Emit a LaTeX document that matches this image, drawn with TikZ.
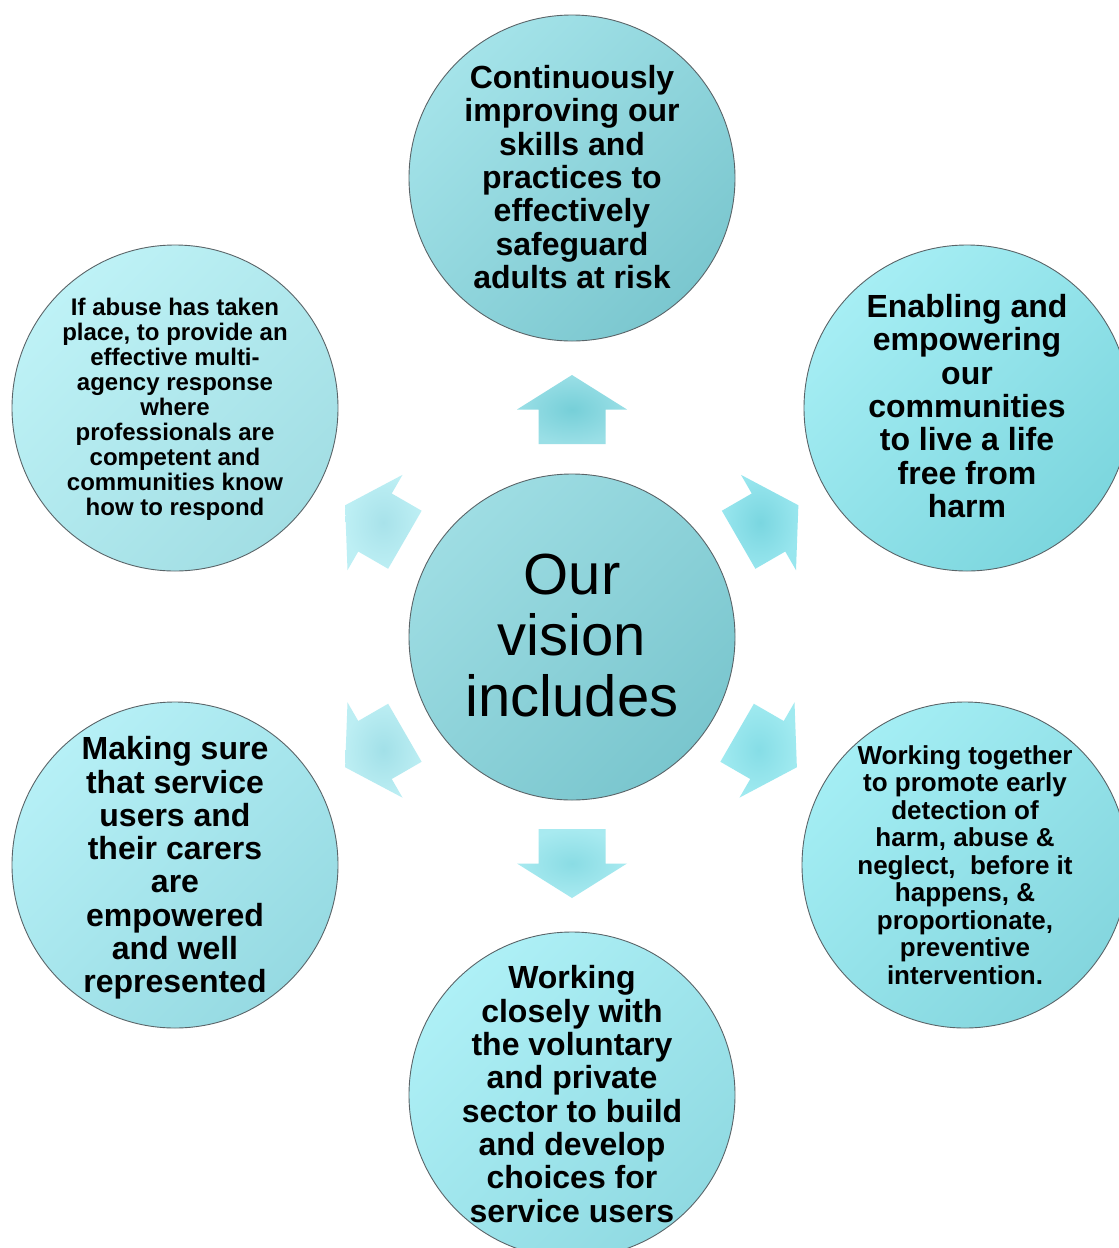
\documentclass[tikz,border=0pt]{standalone}
\usepackage{fontspec}
\setmainfont{Liberation Sans}
\definecolor{cA1}{HTML}{9EDDE3}\definecolor{cA2}{HTML}{7AC6CE}
\definecolor{tA1}{HTML}{A4E3E9}\definecolor{tA2}{HTML}{7BC7CF}
\definecolor{urA1}{HTML}{A6EEF4}\definecolor{urA2}{HTML}{7CD6DE}
\definecolor{ulA1}{HTML}{BEF2F6}\definecolor{ulA2}{HTML}{A2DEE4}
\definecolor{llA1}{HTML}{B6F0F6}\definecolor{llA2}{HTML}{96DAE2}
\definecolor{lrA1}{HTML}{A4EEF4}\definecolor{lrA2}{HTML}{84D6DE}
\definecolor{bA1}{HTML}{AEF0F6}\definecolor{bA2}{HTML}{90DAE2}
\definecolor{aUpI}{HTML}{76CFD8}\definecolor{aUpO}{HTML}{9ADFE6}
\definecolor{aDnI}{HTML}{8ADCE4}\definecolor{aDnO}{HTML}{A8EAF0}
\definecolor{aULI}{HTML}{A8E2EA}\definecolor{aULO}{HTML}{BDEFF4}
\definecolor{aURI}{HTML}{7AD6E0}\definecolor{aURO}{HTML}{98E6EE}
\definecolor{aLLI}{HTML}{A2E0E8}\definecolor{aLLO}{HTML}{BCEEF3}
\definecolor{aLRI}{HTML}{86DDE6}\definecolor{aLRO}{HTML}{A0EAF0}
\definecolor{rimc}{HTML}{5A6468}
\newcommand{\bigtxt}{\fontsize{32}{33.3}\selectfont\bfseries}
\newcommand{\blockarrow}[5]{%
  \begin{scope}[shift={(#1,#2)},rotate=#3]
    \shade[inner color=#4,outer color=#5]
      (34.5,0) -- (0,55) -- (0,33.5) -- (-34.5,33.5) -- (-34.5,-33.5)
      -- (0,-33.5) -- (0,-55) -- cycle;
  \end{scope}}
\begin{document}
\begin{tikzpicture}[x=1pt,y=-1pt,
  disc/.style={circle,minimum size=326pt,inner sep=0pt,draw=rimc,line width=0.9pt},
  txt/.style={align=center,inner sep=0pt,text=black}]
\useasboundingbox (0,0) rectangle (1119,1248);
\clip (0,0) rectangle (1119,1248);
\fill[white] (0,0) rectangle (1119,1248);

% circles
\node[disc,top color=tA1,bottom color=tA2,shading angle=45] (top) at (572,178) {};
\node[disc,top color=urA1,bottom color=urA2,shading angle=45] (ur) at (967,408) {};
\node[disc,top color=ulA1,bottom color=ulA2,shading angle=45] (ul) at (175,408) {};
\node[disc,top color=cA1,bottom color=cA2,shading angle=45] (ctr) at (572,637) {};
\node[disc,top color=llA1,bottom color=llA2,shading angle=45] (ll) at (175,865) {};
\node[disc,top color=lrA1,bottom color=lrA2,shading angle=45] (lr) at (965,865) {};
\node[disc,top color=bA1,bottom color=bA2,shading angle=45] (bot) at (572,1095) {};

% block arrows
\blockarrow{572}{409.5}{90}{aUpI}{aUpO}
\blockarrow{572}{863.5}{-90}{aDnI}{aDnO}
\blockarrow{375}{522.5}{150}{aULI}{aULO}
\blockarrow{768.5}{522.5}{30}{aURI}{aURO}
\blockarrow{375}{750}{210}{aLLI}{aLLO}
\blockarrow{767}{750}{-30}{aLRI}{aLRO}

% texts
\node[txt,font=\bigtxt] (ttop) at (572,177)
  {Continuously\\improving our\\skills and\\practices to\\effectively\\safeguard\\adults at risk};
\node[txt,font=\bigtxt] (tur) at (967,406)
  {Enabling and\\empowering\\our\\communities\\to live a life\\free from\\harm};
\node[txt,font=\fontsize{24}{25}\selectfont\bfseries] (tul) at (175,409)
  {If abuse has taken\\place, to provide an\\effective multi-\\agency response\\where\\professionals are\\competent and\\communities know\\how to respond};
\node[txt,font=\fontsize{58}{61}\selectfont] (tctr) at (572,636)
  {Our\\vision\\includes};
\node[txt,font=\bigtxt] (tll) at (175,868)
  {Making sure\\that service\\users and\\their carers\\are\\empowered\\and well\\represented};
\node[txt,font=\fontsize{26}{27.5}\selectfont\bfseries] (tlr) at (965,865)
  {Working together\\to promote early\\detection of\\harm, abuse \&\\neglect,\ \ before it\\happens, \&\\proportionate,\\preventive\\intervention.};
\node[txt,font=\bigtxt] (tbot) at (572,1094)
  {Working\\closely with\\the voluntary\\and private\\sector to build\\and develop\\choices for\\service users};
\end{tikzpicture}
\end{document}
